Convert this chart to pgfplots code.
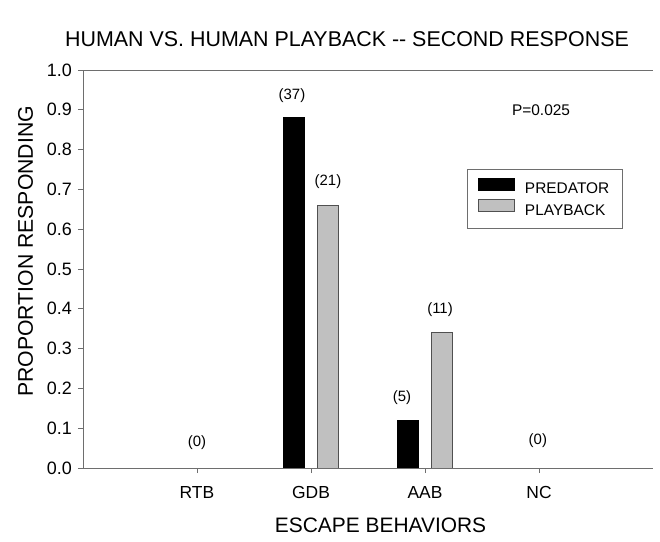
\documentclass[border=0pt]{standalone}
\usepackage{fontspec}
\setmainfont{Liberation Sans}
\usepackage{pgfplots}
\pgfplotsset{compat=1.18}
\definecolor{pbgray}{HTML}{C0C0C0}
\definecolor{edge}{HTML}{505050}
\definecolor{axisgray}{HTML}{6E6E6E}
\newcommand{\fs}[1]{\fontsize{#1}{#1}\selectfont}

\begin{document}
\begin{tikzpicture}
\useasboundingbox (-83bp,-74bp) rectangle (577bp,468bp);
\begin{axis}[
    scale only axis, width=570bp, height=398bp,
    at={(0,0)}, anchor=south west,
    xmin=0, xmax=5, ymin=0, ymax=1,
    clip=false, axis on top,
    axis lines=left,
    axis line style={-, axisgray, line width=0.9bp},
    tick align=outside, major tick length=5bp,
    tick style={axisgray, line width=0.9bp},
    xtick={1,2,3,4}, xticklabels={RTB,GDB,AAB,NC},
    ytick={0,0.1,0.2,0.3,0.4,0.5,0.6,0.7,0.8,0.9,1.0},
    yticklabel={\pgfmathprintnumber[fixed,fixed zerofill,precision=1]{\tick}},
    /pgf/number format/assume math mode=true,
    xticklabel style={anchor=base, yshift=-25bp, font=\fs{17.5}},
    yticklabel style={anchor=east, inner sep=0pt, xshift=-6bp, font=\fs{18}},
    ybar, bar width=21bp,
    legend image code/.code={\draw[#1] (0bp,-0.5bp) rectangle (36bp,11.5bp);},
    legend cell align=left,
    legend style={at={(0.947,0.751)}, anchor=north east, draw=axisgray,
        line width=0.9bp, font=\fs{15.5}, inner xsep=11bp, inner ysep=8bp,
        row sep=0bp, nodes={inner ysep=3.5bp},
        /tikz/every odd column/.append style={column sep=8bp}},
]
\addplot[fill=black, draw=black, line width=0.6bp, bar shift=-17bp]
    coordinates {(1,0) (2,0.88) (3,0.12) (4,0)};
\addlegendentry{PREDATOR}
\addplot[fill=pbgray, draw=edge, line width=0.9bp, bar shift=16.5bp]
    coordinates {(1,0) (2,0.66) (3,0.34) (4,0)};
\addlegendentry{PLAYBACK}

\draw[axisgray, line width=0.9bp] (rel axis cs:0,1) -- (rel axis cs:1,1);

% counts above bars
\node[font=\fs{15}] at (axis cs:1.833,0.935) {(37)};
\node[font=\fs{15}] at (axis cs:2.149,0.719) {(21)};
\node[font=\fs{15}] at (axis cs:2.798,0.176) {(5)};
\node[font=\fs{15}] at (axis cs:3.132,0.397) {(11)};
\node[font=\fs{15}] at (axis cs:1.0,0.063) {(0)};
\node[font=\fs{15}] at (axis cs:3.99,0.070) {(0)};
\node[font=\fs{15.5}] at (axis cs:4.018,0.899) {P=0.025};

% title and axis labels
\node[font=\fs{21.5}, anchor=base] at (axis cs:2.316,1.058)
    {HUMAN VS. HUMAN PLAYBACK {-}{-} SECOND RESPONSE};
\node[font=\fs{21}, anchor=base] at (axis cs:2.61,-0.163) {ESCAPE BEHAVIORS};
\node[font=\fs{21.3}, anchor=base, rotate=90] at (axis cs:-0.439,0.544)
    {PROPORTION RESPONDING};
\end{axis}
\end{tikzpicture}
\end{document}
